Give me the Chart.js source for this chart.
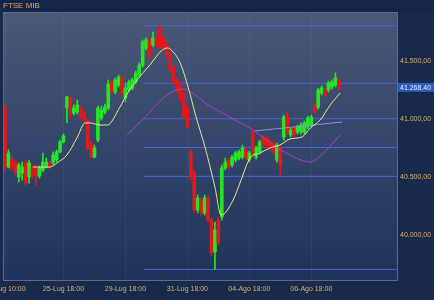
<!DOCTYPE html>
<html>
<head>
<meta charset="utf-8">
<script src="https://cdn.jsdelivr.net/npm/chart.js@4.4.0/dist/chart.umd.min.js"></script>
<style>
  html, body { margin: 0; padding: 0; background: #182a4c; }
</style>
</head>
<body>
<canvas id="ftseChart" width="434" height="300"></canvas>
<script>
// hourly candles, FTSE MIB 24-Lug .. 07-Ago
const opens = [
  41095, 40586, 40647, 40629, 40500, 40534, 40629, 40500, 40586, 40586,
  40509, 40560, 40586, 40621, 40621, 40647, 40716, 40802, 41095, 41181,
  41052, 41060, 41095, 41052, 40991, 40793, 40672, 40819, 41009, 41060,
  41095, 41319, 41233, 41293, 41353, 41181, 41250, 41267, 41319, 41379,
  41465, 41612, 41681, 41638, 41698, 41793, 41707, 41638, 41569, 41448,
  41336, 41293, 41224, 41103, 40707, 40534, 40216, 40302, 40190, 40319,
  40129, 39854, 40129, 40155, 40578, 40647, 40603, 40647, 40664, 40672,
  40733, 40647, 40888, 40672, 40716, 40845, 40836, 40802, 40793, 40647,
  40750, 40845, 41034, 40862, 40922, 40888, 40888, 40888, 40931, 40948,
  41121, 41103, 41224, 41250, 41250, 41276, 41293, 41330
];
const highs = [
  41121, 40733, 40672, 40647, 40621, 40629, 40647, 40647, 40603, 40603,
  40595, 40707, 40664, 40638, 40716, 40733, 40819, 40870, 41198, 41198,
  41121, 41164, 41112, 41069, 41009, 40810, 40776, 41112, 41112, 41129,
  41336, 41336, 41353, 41379, 41370, 41310, 41336, 41353, 41414, 41483,
  41681, 41698, 41698, 41750, 41715, 41804, 41724, 41655, 41586, 41465,
  41353, 41310, 41241, 41121, 40733, 40560, 40345, 40328, 40345, 40336,
  40147, 40112, 40155, 40603, 40664, 40664, 40690, 40724, 40733, 40776,
  40750, 40724, 40905, 40767, 40819, 40862, 40853, 40819, 40810, 40793,
  40767, 41034, 41052, 40922, 40940, 40948, 40966, 40983, 41026, 41034,
  41138, 41267, 41284, 41267, 41327, 41336, 41397, 41345
];
const lows = [
  40560, 40578, 40560, 40517, 40457, 40474, 40431, 40448, 40491, 40431,
  40491, 40543, 40578, 40569, 40603, 40629, 40707, 40793, 40966, 41009,
  41034, 41043, 41000, 40974, 40733, 40664, 40664, 40802, 40991, 41043,
  41078, 41216, 41216, 41276, 41207, 41147, 41233, 41250, 41302, 41362,
  41448, 41595, 41517, 41621, 41621, 41603, 41595, 41534, 41405, 41293,
  41216, 41147, 41000, 40914, 40474, 40198, 40190, 40164, 40172, 40112,
  39819, 39704, 39914, 40129, 40560, 40569, 40586, 40629, 40647, 40655,
  40647, 40629, 40672, 40655, 40698, 40759, 40759, 40733, 40698, 40629,
  40517, 40819, 40870, 40845, 40845, 40870, 40870, 40870, 40914, 40931,
  41043, 41086, 41207, 41190, 41233, 41259, 41276, 41250
];
const closes = [
  40586, 40707, 40578, 40543, 40603, 40586, 40448, 40621, 40517, 40517,
  40578, 40629, 40629, 40586, 40690, 40716, 40802, 40853, 41190, 41052,
  41095, 41121, 41017, 40991, 40750, 40672, 40750, 41095, 41078, 41103,
  41302, 41233, 41336, 41362, 41224, 41267, 41319, 41336, 41397, 41465,
  41664, 41681, 41534, 41698, 41638, 41621, 41612, 41552, 41422, 41310,
  41233, 41164, 41017, 40931, 40500, 40216, 40319, 40190, 40319, 40129,
  39845, 40043, 39940, 40578, 40629, 40586, 40672, 40707, 40716, 40750,
  40664, 40707, 40690, 40750, 40802, 40776, 40776, 40750, 40716, 40776,
  40603, 41017, 40888, 40905, 40862, 40931, 40948, 40966, 41009, 41017,
  41060, 41250, 41267, 41207, 41310, 41319, 41353, 41268.40
];

// x axis: candle index of each time label
const tickIndex = [0, 17, 35, 53, 71, 89];
const tickLabels = ['24-Lug 10:00', '25-Lug 18:00', '29-Lug 18:00', '31-Lug 18:00', '04-Ago 18:00', '06-Ago 18:00'];
const yTicks = [40000, 40500, 41000, 41500];
const lastPrice = 41268.40;

// fibonacci retracement levels (0%, 23.6%, 38.2%, 50%, 61.8%, 100%)
const fibLevels = [41804, 41308, 41002, 40754, 40506, 39704];
const fibStart = 40.3;

// moving averages
const maFastIdx = [8.1, 13.1, 15.1, 18, 20.9, 23.3, 24.7, 27.6, 29.7, 33.4, 35.8, 41.6, 47.1, 48, 50.9, 53.2,
  55.2, 58.1, 61, 62.8, 66.3, 68.6, 71.2, 74.1, 77, 79.9, 82.8, 86.3, 88.7, 91.6, 94.5, 97.4];
const maFastVal = [40586, 40586, 40621, 40690, 40836, 40966, 40966, 40948, 40948, 41103, 41233, 41448, 41612, 41603, 41483, 41276,
  41052, 40759, 40414, 40172, 40302, 40474, 40664, 40707, 40750, 40776, 40828, 40845, 40922, 40991, 41121, 41224];
const maSlowIdx = [35.5, 40.7, 44.5, 48.5, 51.7, 55.2, 59, 63.1, 66.3, 71.2, 77.9, 82.8, 88.7, 91, 97.4];
const maSlowVal = [40862, 41017, 41138, 41233, 41259, 41207, 41121, 41052, 41000, 40922, 40776, 40690, 40629, 40664, 40862];
const trendIdx = [72.7, 98];
const trendVal = [40897, 40974];

const X_MIN = -0.58, X_MAX = 114.2;
const Y_MIN = 39604, Y_MAX = 41922;

function fmtIt(v) {
    const parts = v.toFixed(2).split('.');
    return parts[0].replace(/\B(?=(\d{3})+(?!\d))/g, '.') + ',' + parts[1];
}

const labelFont = '7px Arial, "Liberation Sans", sans-serif';
const labelColor = '#dcae6e';

const framePlugin = {
    id: 'frame',
    beforeDraw(chart) {
        const {ctx, chartArea: a, scales: {x}} = chart;
        ctx.save();
        ctx.fillStyle = '#182a4c';
        ctx.fillRect(0, 0, chart.width, chart.height);
        ctx.fillStyle = '#14254a';
        ctx.fillRect(0, 0, chart.width, a.top);
        const g = ctx.createLinearGradient(0, a.top, 0, a.bottom);
        g.addColorStop(0, '#4b5977');
        g.addColorStop(0.5, '#33456a');
        g.addColorStop(1, '#1e3258');
        ctx.fillStyle = g;
        ctx.fillRect(a.left, a.top, a.right - a.left, a.bottom - a.top);
        // very faint vertical grid
        ctx.strokeStyle = 'rgba(140,160,200,0.08)';
        ctx.lineWidth = 1;
        tickIndex.forEach(i => {
            const px = Math.round(x.getPixelForValue(i)) + 0.5;
            ctx.beginPath();
            ctx.moveTo(px, a.top);
            ctx.lineTo(px, a.bottom);
            ctx.stroke();
        });
        ctx.restore();
    },
    afterDraw(chart) {
        const {ctx, chartArea: a, scales: {x, y}} = chart;
        ctx.save();
        ctx.strokeStyle = '#5b6a88';
        ctx.lineWidth = 1;
        ctx.strokeRect(a.left + 0.5, a.top + 0.5, a.right - a.left - 1, a.bottom - a.top - 1);

        ctx.font = labelFont;
        ctx.fillStyle = labelColor;
        ctx.textBaseline = 'middle';
        ctx.textAlign = 'left';
        yTicks.forEach(v => ctx.fillText(fmtIt(v), a.right + 2, y.getPixelForValue(v)));

        // current price box
        const py = y.getPixelForValue(lastPrice);
        ctx.fillStyle = '#2c5cc2';
        ctx.fillRect(a.right, py - 5, chart.width - a.right, 9);
        ctx.fillStyle = '#e6ecff';
        ctx.fillText(fmtIt(lastPrice), a.right + 2, py);

        ctx.fillStyle = labelColor;
        ctx.textAlign = 'center';
        tickIndex.forEach((i, k) => ctx.fillText(tickLabels[k], x.getPixelForValue(i), a.bottom + 8));

        ctx.font = '8px Arial, "Liberation Sans", sans-serif';
        ctx.fillStyle = '#f0a050';
        ctx.textAlign = 'left';
        ctx.fillText('FTSE MIB', 3, 6);
        ctx.restore();
    }
};

const idx = opens.map((_, i) => i);
const candleColors = idx.map(i => closes[i] >= opens[i] ? '#25e625' : '#e01a1a');
const toPoints = (xs, ys) => xs.map((v, k) => ({x: v, y: ys[k]}));

const fibSets = fibLevels.map(l => ({
    type: 'line',
    data: [{x: fibStart, y: l}, {x: X_MAX, y: l}],
    borderColor: '#4a62e0',
    borderWidth: 1,
    pointRadius: 0,
    order: 10
}));

new Chart(document.getElementById('ftseChart'), {
    type: 'bar',
    data: {
        datasets: [
            ...fibSets,
            {
                type: 'bar',
                data: idx.map(i => ({x: i, y: [lows[i], highs[i]]})),
                backgroundColor: candleColors,
                barThickness: 1,
                grouped: false,
                order: 6
            },
            {
                type: 'bar',
                data: idx.map(i => ({x: i, y: [opens[i], closes[i]]})),
                backgroundColor: candleColors,
                barThickness: 3,
                grouped: false,
                order: 5
            },
            {
                type: 'line',
                data: toPoints(trendIdx, trendVal),
                borderColor: '#8893dc',
                borderWidth: 1,
                pointRadius: 0,
                order: 3
            },
            {
                type: 'line',
                data: toPoints(maSlowIdx, maSlowVal),
                borderColor: '#b03bd0',
                borderWidth: 1,
                pointRadius: 0,
                cubicInterpolationMode: 'monotone',
                order: 2
            },
            {
                type: 'line',
                data: toPoints(maFastIdx, maFastVal),
                borderColor: '#e6e68e',
                borderWidth: 1,
                pointRadius: 0,
                cubicInterpolationMode: 'monotone',
                order: 1
            }
        ]
    },
    options: {
        responsive: false,
        animation: false,
        layout: { padding: { left: 3, top: 12, right: 36, bottom: 19 } },
        plugins: { legend: { display: false }, tooltip: { enabled: false } },
        scales: {
            x: { type: 'linear', display: false, offset: false, min: X_MIN, max: X_MAX },
            y: { display: false, min: Y_MIN, max: Y_MAX }
        }
    },
    plugins: [framePlugin]
});
</script>
</body>
</html>
